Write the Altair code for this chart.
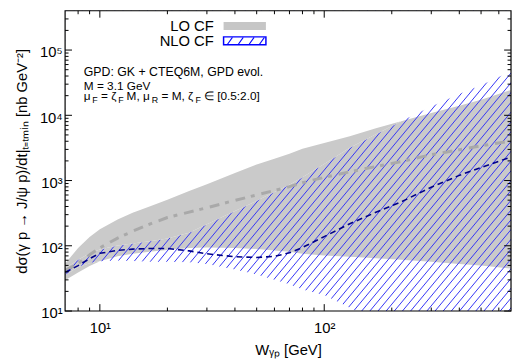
import altair as alt
import pandas as pd

# ---------------- data ----------------
W       = [7, 8, 9, 10, 12, 14, 17, 20, 25, 30, 40, 50, 60, 70, 80, 100, 130, 170, 220, 300, 400, 500, 680]
lo_up   = [53, 92.7, 136, 179, 253, 322, 411, 506, 690, 879, 1310, 1760, 2160, 2570, 3060, 3770, 4790, 6310, 8070, 10800, 14000, 17300, 24400]
lo_low  = [29.6, 39, 48.9, 58, 69, 75.3, 82, 86.5, 92.7, 94.3, 92.7, 89.5, 84.9, 80.7, 75.3, 71, 67.9, 64.4, 61.1, 57, 52.4, 49.7, 44.8]
lo_cen  = [41.8, 53.2, 72.8, 92.7, 131, 167, 220, 271, 328, 383, 497, 601, 703, 807, 927, 1120, 1360, 1640, 1950, 2490, 2960, 3400, 4040]
nlo_up  = [44.8, 61, 76.6, 88, 101, 108, 118, 129, 159, 213, 340, 488, 667, 865, 1120, 1790, 3170, 5140, 8070, 13600, 21300, 29000, 47200]
nlo_low = [35.2, 47.2, 54.2, 58, 59.5, 58.4, 57, 57, 56.1, 52.4, 43.3, 36.4, 30.1, 25.8, 21.3, 17.6, 11.2, 7.1, 4.7, 2.8, 1.7, 1.2, 0.7]
nlo_cen = [39, 49.7, 63.4, 76.6, 85, 88.9, 91, 91, 83.5, 75.3, 67.9, 66.2, 69, 78, 94.3, 138, 218, 326, 470, 790, 1200, 1585, 2300]

x_major = [10, 100]
x_minor = [8, 9, 20, 30, 40, 50, 60, 70, 80, 90, 200, 300, 400, 500, 600]
y_major = [10, 100, 1000, 10000, 100000]
y_minor = [20, 30, 40, 50, 60, 70, 80, 90,
           200, 300, 400, 500, 600, 700, 800, 900,
           2000, 3000, 4000, 5000, 6000, 7000, 8000, 9000,
           20000, 30000, 40000, 50000, 60000, 70000, 80000, 90000,
           200000, 300000]

x_domain = [7, 680]
y_domain = [10, 400000]

legend_labels = ["LO CF", "NLO CF"]
note1 = "GPD: GK + CTEQ6M, GPD evol."
note2 = "M = 3.1 GeV"

# ---------------- styling ----------------
PW, PH = 453, 305
FONT = "Liberation Sans"
GRAY = "#cacaca"
HATCH = "#3535f5"

df = pd.DataFrame(dict(W=W, lo_up=lo_up, lo_low=lo_low, lo_cen=lo_cen,
                       nlo_up=nlo_up, nlo_low=nlo_low, nlo_cen=nlo_cen))

xs = alt.Scale(type="log", domain=x_domain, nice=False)
ys = alt.Scale(type="log", domain=y_domain, nice=False)

xa = alt.Axis(values=x_major,
              labelExpr="'10' + ['','¹','²','³'][round(log(datum.value)/LN10)]",
              title="Wᵧₚ [GeV]", ticks=False, tickSize=0, domain=False, grid=False,
              labelPadding=10, labelFontSize=15, titleFontSize=15, titleFontWeight="normal",
              labelFont=FONT, titleFont=FONT, labelColor="black", titleColor="black",
              titleY=44, titleBaseline="alphabetic")
ya = alt.Axis(values=y_major,
              labelExpr="'10' + ['','¹','²','³','⁴','⁵'][round(log(datum.value)/LN10)]",
              title="dσ(γ p → J/ψ p)/dt|ₜ₌ₜₘᵢₙ [nb GeV⁻²]", ticks=False, tickSize=0,
              domain=False, grid=False, labelPadding=3, labelFontSize=15, titleFontSize=15,
              titleFontWeight="normal", labelFont=FONT, titleFont=FONT,
              labelColor="black", titleColor="black", labelOffset=2,
              titleX=-44, titleY=PH / 2, titleAngle=270, titleAlign="center",
              titleBaseline="middle")


def X(f):
    return alt.X(f, scale=xs, axis=xa)


def Y(f):
    return alt.Y(f, scale=ys, axis=ya)


base = alt.Chart(df).transform_calculate(
    ytop=str(y_domain[1]), ybot=str(y_domain[0]),
    r1="min(max(datum.lo_low, datum.nlo_up), datum.lo_up)",
    r2="max(min(datum.lo_up, datum.nlo_low), datum.lo_low)")

lo_band = base.mark_area(color=GRAY, clip=True).encode(x=X("W:Q"), y=Y("lo_low:Q"), y2="lo_up:Q")

hatch = alt.Chart(alt.sequence(0, 90, as_="k")).transform_calculate(
    c="-10.8 + 0.15*datum.k",
    wa="5", wb="900",
    sa="pow(10, datum.c + 4.13*log(5)/LN10)",
    sb="pow(10, datum.c + 4.13*log(900)/LN10)",
).mark_rule(clip=True, color=HATCH, strokeWidth=1).encode(
    x=X("wa:Q"), x2="wb:Q", y=Y("sa:Q"), y2="sb:Q")

mask_top = base.mark_area(color="white", clip=True).encode(x=X("W:Q"), y=Y("nlo_up:Q"), y2="ytop:Q")
mask_bot = base.mark_area(color="white", clip=True).encode(x=X("W:Q"), y=Y("ybot:Q"), y2="nlo_low:Q")

rest_top = base.mark_area(color=GRAY, clip=True).encode(x=X("W:Q"), y=Y("r1:Q"), y2="lo_up:Q")
rest_bot = base.mark_area(color=GRAY, clip=True).encode(x=X("W:Q"), y=Y("lo_low:Q"), y2="r2:Q")

lo_line = base.mark_line(color="#a9a9a9", strokeWidth=3, strokeDash=[10, 6, 4, 7], clip=True).encode(
    x=X("W:Q"), y=Y("lo_cen:Q"))
nlo_line = base.mark_line(color="#00008b", strokeWidth=1.6, strokeDash=[6, 4], clip=True).encode(
    x=X("W:Q"), y=Y("nlo_cen:Q"))


def xticks(vals, L):
    d = alt.Chart(pd.DataFrame({"v": vals}))
    b = d.mark_rule(color="black", strokeWidth=1).encode(x=X("v:Q"), y=alt.value(PH), y2=alt.value(PH - L))
    t = d.mark_rule(color="black", strokeWidth=1).encode(x=X("v:Q"), y=alt.value(0), y2=alt.value(L))
    return [b, t]


def yticks(vals, L):
    d = alt.Chart(pd.DataFrame({"v": vals}))
    l = d.mark_rule(color="black", strokeWidth=1).encode(y=Y("v:Q"), x=alt.value(0), x2=alt.value(L))
    r = d.mark_rule(color="black", strokeWidth=1).encode(y=Y("v:Q"), x=alt.value(PW), x2=alt.value(PW - L))
    return [l, r]


frame = alt.Chart(pd.DataFrame({"a": [0]})).mark_rect(
    fillOpacity=0, stroke="black", strokeWidth=1.2).encode(
    x=alt.value(0), x2=alt.value(PW), y=alt.value(0), y2=alt.value(PH))


def txt(s, x, y, size, align="left"):
    return alt.Chart(pd.DataFrame({"t": [s]})).mark_text(
        font=FONT, fontSize=size, align=align, baseline="alphabetic", color="black").encode(
        text="t:N", x=alt.value(x), y=alt.value(y))


# legend
leg_gray = alt.Chart(pd.DataFrame({"a": [0]})).mark_rect(color="#c6c6c6").encode(
    x=alt.value(161), x2=alt.value(204), y=alt.value(11.5), y2=alt.value(19.5))
leg_box = alt.Chart(pd.DataFrame({"a": [0]})).mark_rect(
    fill="white", stroke="#0000ff", strokeWidth=1.5).encode(
    x=alt.value(161), x2=alt.value(204), y=alt.value(26.5), y2=alt.value(34.5))
leg_hatch = []
for bx in [165, 176, 187, 197.5]:
    leg_hatch.append(alt.Chart(pd.DataFrame({"a": [0]})).mark_rule(color="#0000ff", strokeWidth=1.1).encode(
        x=alt.value(bx), x2=alt.value(bx + 5), y=alt.value(34), y2=alt.value(27)))

FS, SS = 12, 9
L3, S3 = 91, 94
texts = [
    txt(legend_labels[0], 151, 21, 15, "right"),
    txt(legend_labels[1], 151, 35.5, 15, "right"),
    txt(note1, 19, 66, 12.5),
    txt(note2, 19, 80.5, FS),
    # mu_F = zeta_F M, mu_R = M, zeta_F in [0.5:2.0]
    txt("μ", 19, L3, FS),
    txt("F", 27.5, S3, SS),
    txt("= ζ", 36.5, L3, FS),
    txt("F", 54, S3, SS),
    txt("M, μ", 62.5, L3, FS),
    txt("R", 88, S3, SS),
    txt("= M, ζ", 98, L3, FS),
    txt("F", 132.5, S3, SS),
    txt("∈ [0.5:2.0]", 141, L3, FS),
]

layers = ([lo_band, hatch, mask_top, mask_bot, rest_top, rest_bot, lo_line, nlo_line]
          + xticks(x_major, 7) + xticks(x_minor, 3.5)
          + yticks(y_major, 7) + yticks(y_minor, 3.5)
          + [frame, leg_gray, leg_box] + leg_hatch + texts)

chart = alt.layer(*layers).properties(
    width=PW, height=PH,
    autosize=alt.AutoSizeParams(type="none"),
    padding={"left": 58, "top": 0, "right": 1, "bottom": 51},
).configure_view(stroke=None)

chart.save("out.html", embed_options={"renderer": "svg", "actions": False})
